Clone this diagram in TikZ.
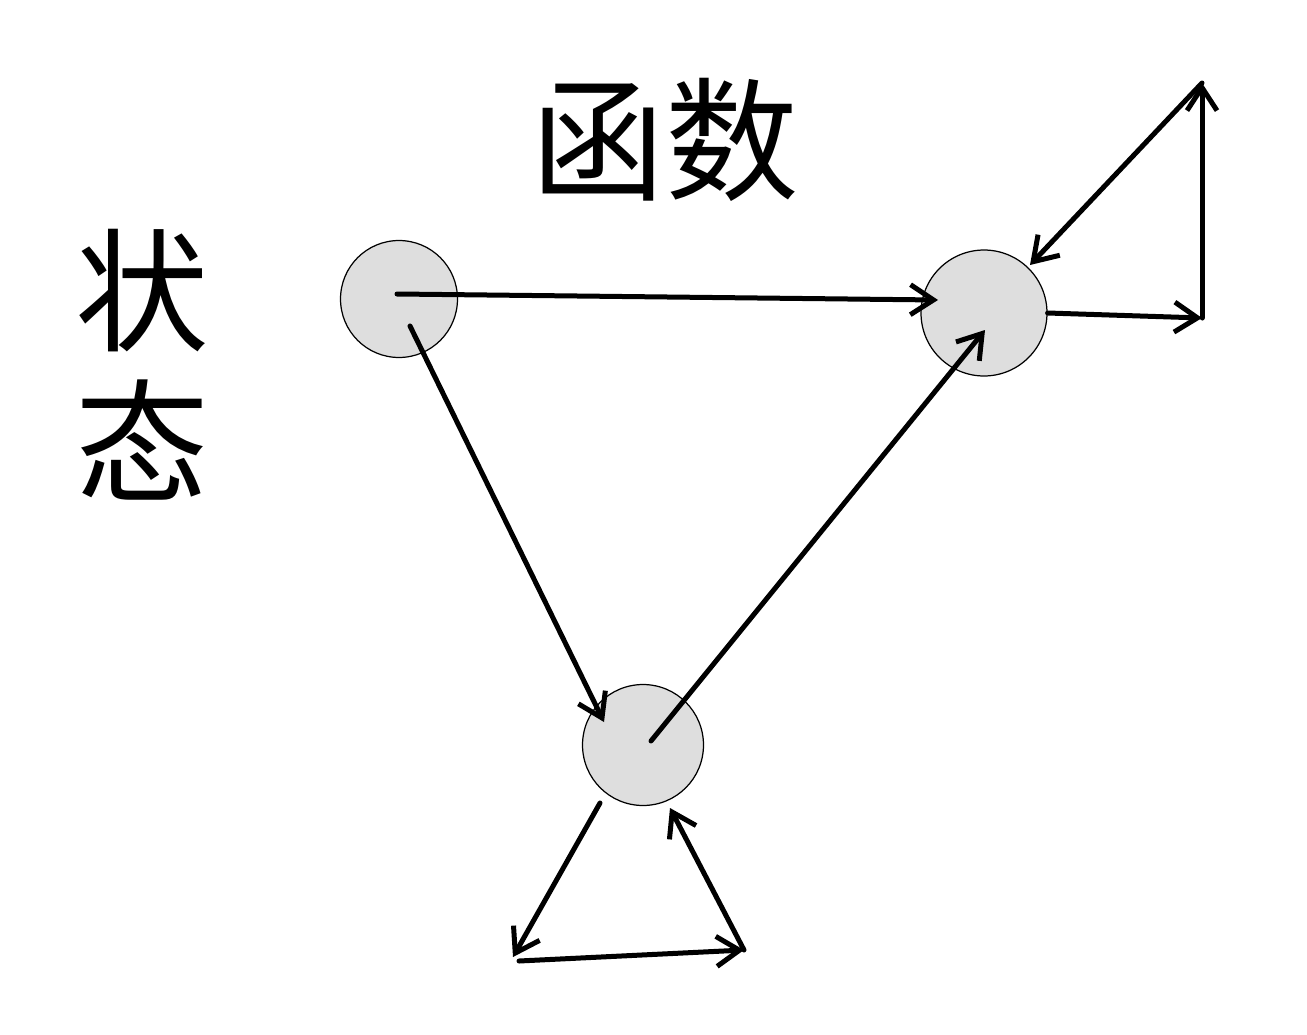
\documentclass[tikz,border=0pt]{standalone}
\usepackage{fontspec}
\newfontfamily\cjk{Noto Sans CJK SC}
\usetikzlibrary{arrows.meta}
\definecolor{nodefill}{HTML}{DEDEDE}
\begin{document}
\begin{tikzpicture}[x=0.02cm,y=-0.02cm,
  state/.style={circle,draw=black,line width=0.7pt,fill=nodefill,inner sep=0pt},
  conn/.style={line width=0.1cm,line cap=round,line join=round,
    -{Straight Barb[length=0.46cm,width=0.6cm]}},
  handtext/.style={font=\cjk\fontsize{76}{86}\selectfont,inner sep=0pt,align=center}]
\useasboundingbox[fill=white] (0,0) rectangle (1307,1034);
% labels
\node[handtext] (func) at (665,140) {函数};
\node[handtext] (state) at (142,365) {状\\态};
% state circles
\node[state,minimum size=2.34cm] (A) at (399,299) {};
\node[state,minimum size=2.52cm] (B) at (984,313) {};
\node[state,minimum size=2.42cm] (C) at (643,745) {};
% helper coordinates
\coordinate (a1) at (397,294);
\coordinate (b1) at (938,300);
\coordinate (a2) at (410,326);
\coordinate (c1) at (604,722);
\coordinate (c2) at (651,741);
\coordinate (b2) at (985,330);
\coordinate (r1) at (1202,318);
\coordinate (r2) at (1202,83);
\coordinate (b3) at (1030,265);
\coordinate (c3) at (600,803);
\coordinate (l1) at (513,957);
\coordinate (l2) at (519,961);
\coordinate (l3) at (744,950);
\coordinate (c4) at (670,808);
% connectors
\draw[conn] (a1) -- (b1);
\draw[conn] (a2) -- (c1);
\draw[conn] (c2) -- (b2);
\draw[conn] (B.east) -- (r1);
\draw[conn] (r1) -- (r2);
\draw[conn] (r2) -- (b3);
\draw[conn] (c3) -- (l1);
\draw[conn] (l2) -- (l3);
\draw[conn] (l3) -- (c4);
\end{tikzpicture}
\end{document}
